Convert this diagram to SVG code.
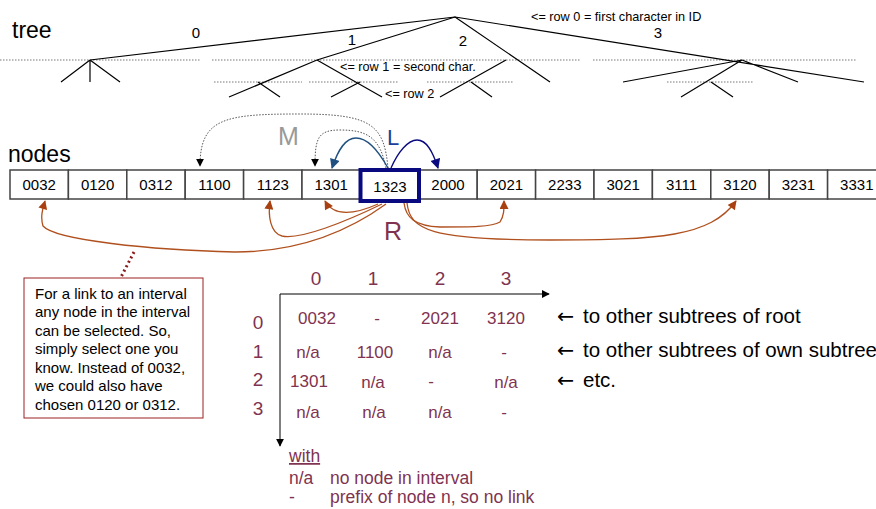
<svg xmlns="http://www.w3.org/2000/svg" width="876" height="509" viewBox="0 0 876 509">
<defs>
<style>
text{font-family:"Liberation Sans",Arial,sans-serif}
.tr{stroke:#000;stroke-width:1.2;fill:none}
.dt{stroke:#777;stroke-width:1;stroke-dasharray:1.5,1.5;fill:none}
.cell{fill:#fff;stroke:#444;stroke-width:1.5}
.ct{font-size:15px;text-anchor:middle;fill:#000}
.mr{fill:#7f3350}
.br{stroke:#b0501e;stroke-width:1.3;fill:none}
.mt{font-size:17px;text-anchor:middle}
.arw{font-family:"DejaVu Sans",sans-serif}
</style>
<marker id="ab" viewBox="0 0 10 10" refX="9" refY="5" markerWidth="8" markerHeight="8" orient="auto" markerUnits="userSpaceOnUse"><path d="M0,0L10,5L0,10z" fill="#000"/></marker>
<marker id="abr" viewBox="0 0 10 10" refX="9" refY="5" markerWidth="10" markerHeight="9" orient="auto" markerUnits="userSpaceOnUse"><path d="M0,0L10,5L0,10z" fill="#a8400f"/></marker>
<marker id="ablue" viewBox="0 0 10 10" refX="9" refY="5" markerWidth="11" markerHeight="10" orient="auto" markerUnits="userSpaceOnUse"><path d="M0,0L10,5L0,10z" fill="#1f5080"/></marker>
<marker id="anavy" viewBox="0 0 10 10" refX="9" refY="5" markerWidth="11" markerHeight="10" orient="auto" markerUnits="userSpaceOnUse"><path d="M0,0L10,5L0,10z" fill="#0a0a80"/></marker>
</defs>

<g id="tree">
<text x="12" y="38" font-size="23">tree</text>
<g class="dt">
<path d="M0,60H200M212,60H580M593,60H857"/>
<path d="M214,82H302M309,82H398M427,82H514M667,82H754"/>
</g>
<g class="tr">
<path d="M455,17L90,60M90,60L61,82M90,60V82M90,60L120,82"/>
<path d="M455,17L317,60L229,97M258,82L280,97M317,60L382,97M360,82L331,97"/>
<path d="M455,17L550,82M506,60L440,97M471,82L492,97"/>
<path d="M455,17L864,82M742,60L623,82M742,60L798,82M742,60L681,97M711,82L733,97"/>
</g>
<g font-size="15">
<text x="196" y="38" text-anchor="middle">0</text>
<text x="352" y="45" text-anchor="middle">1</text>
<text x="463" y="46" text-anchor="middle">2</text>
<text x="658" y="38" text-anchor="middle">3</text>
</g>
<g font-size="12.7">
<text x="531" y="21">&lt;= row 0 = first character in ID</text>
<text x="340" y="71">&lt;= row 1 = second char.</text>
<text x="385" y="98">&lt;= row 2</text>
</g>
</g>

<g id="nodes">
<text x="8" y="162" font-size="23">nodes</text>
<g id="n0032"><rect class="cell" x="10" y="170" width="58.4" height="29"/><text class="ct" x="39.2" y="190">0032</text></g>
<g id="n0120"><rect class="cell" x="68.4" y="170" width="58.4" height="29"/><text class="ct" x="97.6" y="190">0120</text></g>
<g id="n0312"><rect class="cell" x="126.8" y="170" width="58.4" height="29"/><text class="ct" x="156" y="190">0312</text></g>
<g id="n1100"><rect class="cell" x="185.2" y="170" width="58.4" height="29"/><text class="ct" x="214.4" y="190">1100</text></g>
<g id="n1123"><rect class="cell" x="243.6" y="170" width="58.4" height="29"/><text class="ct" x="272.8" y="190">1123</text></g>
<g id="n1301"><rect class="cell" x="302" y="170" width="58.4" height="29"/><text class="ct" x="331.2" y="190">1301</text></g>
<g id="n2000"><rect class="cell" x="418.8" y="170" width="58.4" height="29"/><text class="ct" x="448" y="190">2000</text></g>
<g id="n2021"><rect class="cell" x="477.2" y="170" width="58.4" height="29"/><text class="ct" x="506.4" y="190">2021</text></g>
<g id="n2233"><rect class="cell" x="535.6" y="170" width="58.4" height="29"/><text class="ct" x="564.8" y="190">2233</text></g>
<g id="n3021"><rect class="cell" x="594" y="170" width="58.4" height="29"/><text class="ct" x="623.2" y="190">3021</text></g>
<g id="n3111"><rect class="cell" x="652.4" y="170" width="58.4" height="29"/><text class="ct" x="681.6" y="190">3111</text></g>
<g id="n3120"><rect class="cell" x="710.8" y="170" width="58.4" height="29"/><text class="ct" x="740" y="190">3120</text></g>
<g id="n3231"><rect class="cell" x="769.2" y="170" width="58.4" height="29"/><text class="ct" x="798.4" y="190">3231</text></g>
<g id="n3331"><rect class="cell" x="827.6" y="170" width="58.4" height="29"/><text class="ct" x="856.8" y="190">3331</text></g>
<g id="n1323"><rect x="360.5" y="170" width="58.5" height="31" fill="#fff" stroke="#0a0a80" stroke-width="4"/><text class="ct" x="390" y="192">1323</text></g>
</g>

<g id="labels">
<text x="278" y="145" font-size="25" fill="#999">M</text>
<text x="387" y="145" font-size="22" fill="#1a3f9a">L</text>
<text x="384" y="240" font-size="25" class="mr">R</text>
</g>

<g id="connectors">
<path d="M388,168C384,125 372,114 300,114C225,114 200,118 200,166" stroke="#555" stroke-width="1" stroke-dasharray="1.5,1.5" fill="none" marker-end="url(#ab)"/>
<path d="M386,168C380,138 368,130 340,130C318,130 315,138 315,166" stroke="#555" stroke-width="1" stroke-dasharray="1.5,1.5" fill="none" marker-end="url(#ab)"/>
<path d="M388,168C378,150 368,138 356,138C345,138 338,150 332,168" stroke="#1f5080" stroke-width="1.3" fill="none" marker-end="url(#ablue)"/>
<path d="M391,168C398,152 408,140 417,140C427,140 433,152 438,168" stroke="#0a0a80" stroke-width="1.3" fill="none" marker-end="url(#anavy)"/>
<path class="br" d="M378,204C360,212 335,219 325,201" marker-end="url(#abr)"/>
<path class="br" d="M382,204C345,222 300,240 282,236C270,233 268,215 270,201" marker-end="url(#abr)"/>
<path class="br" d="M386,204C350,230 300,252 235,252C150,250 55,240 43,226C40,216 43,208 45,201" marker-end="url(#abr)"/>
<path class="br" d="M404,203C406,218 415,226 440,227C470,227 492,227 500,222C504,216 504,210 504,201" marker-end="url(#abr)"/>
<path class="br" d="M407,203C410,230 430,240 550,240C660,240 710,237 736,201" marker-end="url(#abr)"/>
<path d="M134,252L120,279" stroke="#8b1a1a" stroke-width="3" stroke-dasharray="2,3" fill="none"/>
</g>

<g id="note">
<rect x="24" y="278" width="179" height="140" fill="#fff" stroke="#9b2020" stroke-width="1"/>
<g font-size="15">
<text x="35" y="299">For a link to an interval</text>
<text x="35" y="317">any node in the interval</text>
<text x="35" y="336">can be selected. So,</text>
<text x="35" y="354">simply select one you</text>
<text x="35" y="373">know. Instead of 0032,</text>
<text x="35" y="391">we could also have</text>
<text x="35" y="410">chosen 0120 or 0312.</text>
</g>
</g>

<g id="table">
<path d="M280,294H549" stroke="#000" stroke-width="1" fill="none" marker-end="url(#ab)"/>
<path d="M280,294V446" stroke="#000" stroke-width="1" fill="none" marker-end="url(#ab)"/>
<g class="mr" font-size="19" text-anchor="middle">
<text x="316" y="285">0</text><text x="373" y="285">1</text><text x="440" y="285">2</text><text x="506" y="285">3</text>
<text x="258" y="329">0</text><text x="258" y="358">1</text><text x="258" y="386">2</text><text x="258" y="415">3</text>
</g>
<g class="mr">
<text class="mt" x="317" y="324">0032</text><text class="mt" x="377" y="324">-</text><text class="mt" x="440" y="324">2021</text><text class="mt" x="506" y="324">3120</text>
<text class="mt" x="308" y="358">n/a</text><text class="mt" x="375" y="358">1100</text><text class="mt" x="440" y="358">n/a</text><text class="mt" x="504" y="358">-</text>
<text class="mt" x="309" y="387">1301</text><text class="mt" x="373" y="388">n/a</text><text class="mt" x="431" y="387">-</text><text class="mt" x="506" y="388">n/a</text>
<text class="mt" x="308" y="418">n/a</text><text class="mt" x="374" y="418">n/a</text><text class="mt" x="440" y="418">n/a</text><text class="mt" x="504" y="418">-</text>
</g>
<g font-size="20.5">
<text x="557" y="323"><tspan class="arw">←</tspan><tspan x="583">to other subtrees of root</tspan></text>
<text x="557" y="357"><tspan class="arw">←</tspan><tspan x="583">to other subtrees of own subtree</tspan></text>
<text x="557" y="387"><tspan class="arw">←</tspan><tspan x="583">etc.</tspan></text>
</g>
<g class="mr" font-size="17.5">
<text x="289" y="462" text-decoration="underline">with</text>
<text x="289" y="484">n/a</text><text x="330" y="484">no node in interval</text>
<text x="289" y="503">-</text><text x="330" y="503">prefix of node n, so no link</text>
</g>
</g>
</svg>
